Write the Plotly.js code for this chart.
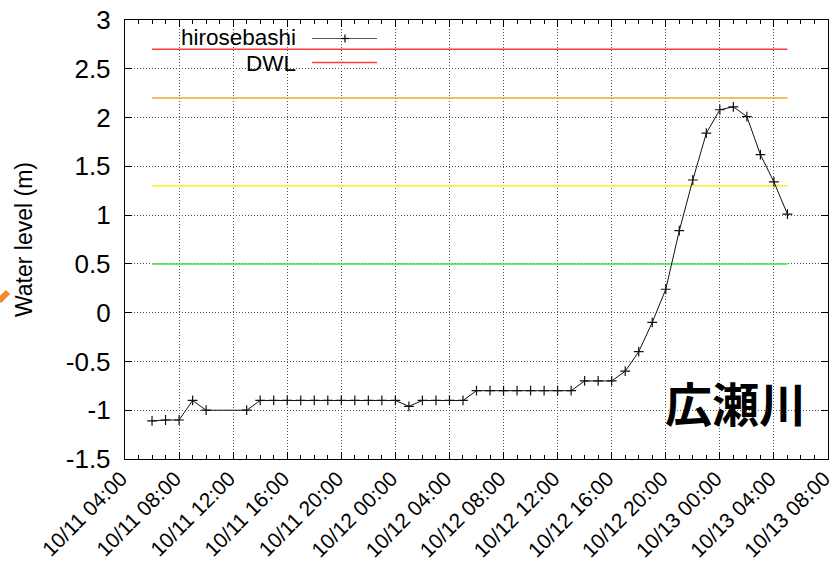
<!DOCTYPE html>
<html>
<head>
<meta charset="utf-8">
<script src="https://cdn.plot.ly/plotly-3.0.1.min.js"></script>
<style>html,body{margin:0;padding:0;background:#fff;}#chart{width:833px;height:567px;}</style>
</head>
<body>
<div id="chart"></div>
<script>
// Observation times (2019, typhoon period); 10/11 11:00 and 12:00 missing
const times = [
  '2019-10-11 06:00','2019-10-11 07:00','2019-10-11 08:00','2019-10-11 09:00','2019-10-11 10:00',
  '2019-10-11 13:00','2019-10-11 14:00','2019-10-11 15:00','2019-10-11 16:00','2019-10-11 17:00',
  '2019-10-11 18:00','2019-10-11 19:00','2019-10-11 20:00','2019-10-11 21:00','2019-10-11 22:00',
  '2019-10-11 23:00','2019-10-12 00:00','2019-10-12 01:00','2019-10-12 02:00','2019-10-12 03:00',
  '2019-10-12 04:00','2019-10-12 05:00','2019-10-12 06:00','2019-10-12 07:00','2019-10-12 08:00',
  '2019-10-12 09:00','2019-10-12 10:00','2019-10-12 11:00','2019-10-12 12:00','2019-10-12 13:00',
  '2019-10-12 14:00','2019-10-12 15:00','2019-10-12 16:00','2019-10-12 17:00','2019-10-12 18:00',
  '2019-10-12 19:00','2019-10-12 20:00','2019-10-12 21:00','2019-10-12 22:00','2019-10-12 23:00',
  '2019-10-13 00:00','2019-10-13 01:00','2019-10-13 02:00','2019-10-13 03:00','2019-10-13 04:00',
  '2019-10-13 05:00'
];
const hirosebashi = [
  -1.11,-1.10,-1.10,-0.90,-1.00,
  -1.00,-0.90,-0.90,-0.90,-0.90,
  -0.90,-0.90,-0.90,-0.90,-0.90,
  -0.90,-0.90,-0.96,-0.90,-0.90,
  -0.90,-0.90,-0.80,-0.80,-0.80,
  -0.80,-0.80,-0.80,-0.80,-0.80,
  -0.70,-0.70,-0.70,-0.60,-0.40,
  -0.10,0.24,0.84,1.36,1.84,
  2.08,2.11,2.01,1.62,1.34,
  1.01
];
// Reference levels (m)
const levelNames = ['DWL','level2','level3','level4'];
const levelValues = [2.7, 2.2, 1.3, 0.5];
const levelColors = ['#ff3a3a','#f3a535','#ffee22','#3ee63e'];

const yTickVals = [-1.5,-1,-0.5,0,0.5,1,1.5,2,2.5,3];
const yTickText = ['-1.5','-1','-0.5','0','0.5','1','1.5','2','2.5','3'];
const xTickVals = [
  '2019-10-11 04:00','2019-10-11 08:00','2019-10-11 12:00','2019-10-11 16:00','2019-10-11 20:00',
  '2019-10-12 00:00','2019-10-12 04:00','2019-10-12 08:00','2019-10-12 12:00','2019-10-12 16:00',
  '2019-10-12 20:00','2019-10-13 00:00','2019-10-13 04:00','2019-10-13 08:00'
];
const xTickText = [
  '10/11 04:00','10/11 08:00','10/11 12:00','10/11 16:00','10/11 20:00',
  '10/12 00:00','10/12 04:00','10/12 08:00','10/12 12:00','10/12 16:00',
  '10/12 20:00','10/13 00:00','10/13 04:00','10/13 08:00'
];
const xRange = ['2019-10-11 04:00','2019-10-13 08:00'];

const chartTitle = '広瀬川';
const yTitle = 'Water level (m)';

const W = 833, H = 567, L = 125, R = 5, T = 20, B = 108;
const pw = W - L - R, ph = H - T - B;
const px = x => (x - L) / pw;
const py = y => (H - B - y) / ph;

const traces = [];
levelValues.forEach((v, i) => {
  traces.push({
    x: [times[0], times[times.length - 1]],
    y: [v, v],
    mode: 'lines',
    name: levelNames[i],
    line: {color: levelColors[i], width: 1.5},
    showlegend: false,
    hoverinfo: 'skip'
  });
});
traces.push({
  x: times, y: hirosebashi,
  mode: 'lines+markers',
  name: 'hirosebashi',
  line: {color: '#111', width: 1},
  marker: {symbol: 'cross-thin', size: 7, line: {color: '#111', width: 1.2}},
  showlegend: false
});

const font = {family: '"Liberation Sans", Arial, Helvetica, sans-serif', color: '#000'};

const layout = {
  width: W, height: H,
  margin: {l: L, r: R, t: T, b: B},
  paper_bgcolor: '#fff', plot_bgcolor: '#fff',
  showlegend: false,
  font: Object.assign({size: 22}, font),
  xaxis: {
    type: 'date', range: xRange,
    tickvals: xTickVals, ticktext: xTickText, tickangle: -45,
    tickfont: Object.assign({size: 21}, font),
    ticklabeloverflow: 'allow',
    ticklabelstandoff: -2,
    ticklabelshift: -4,
    showline: true, linecolor: '#000', linewidth: 1.2, mirror: 'ticks',
    ticks: 'inside', ticklen: 7, tickcolor: '#000',
    showgrid: true, gridcolor: '#555', griddash: '1px,2px', gridwidth: 1,
    minor: {dtick: 3600000, tick0: '2019-10-11 04:00', ticks: 'inside', ticklen: 4, tickcolor: '#000', showgrid: false},
    zeroline: false
  },
  yaxis: {
    range: [-1.5, 3],
    tickvals: yTickVals, ticktext: yTickText,
    tickfont: Object.assign({size: 26}, font),
    ticklabelstandoff: 8,
    showline: true, linecolor: '#000', linewidth: 1.2, mirror: 'ticks',
    ticks: 'inside', ticklen: 7, tickcolor: '#000',
    showgrid: true, gridcolor: '#555', griddash: '1px,2px', gridwidth: 1,
    zeroline: false,
    title: {text: yTitle, font: Object.assign({size: 23}, font), standoff: 26}
  },
  shapes: [
    // key background (opaque, covers grid only)
    {type: 'rect', xref: 'paper', yref: 'paper', x0: px(137), x1: px(394), y0: py(75), y1: py(21),
     fillcolor: '#fff', line: {width: 0}, layer: 'between'},
    // key samples
    {type: 'line', xref: 'paper', yref: 'paper', x0: px(312), x1: px(377), y0: py(38.5), y1: py(38.5),
     line: {color: '#555', width: 1.2}},
    {type: 'line', xref: 'paper', yref: 'paper', x0: px(341), x1: px(349), y0: py(38.5), y1: py(38.5),
     line: {color: '#000', width: 1.2}},
    {type: 'line', xref: 'paper', yref: 'paper', x0: px(345), x1: px(345), y0: py(34.5), y1: py(42.5),
     line: {color: '#000', width: 1.2}},
    {type: 'line', xref: 'paper', yref: 'paper', x0: px(312), x1: px(377), y0: py(62.5), y1: py(62.5),
     line: {color: levelColors[0], width: 1.5}},
    // orange mark at the left edge
    {type: 'line', xref: 'paper', yref: 'paper', x0: px(-1), x1: px(8), y0: py(301), y1: py(292),
     line: {color: '#f08a2c', width: 6}}
  ],
  annotations: [
    {xref: 'paper', yref: 'paper', x: px(297), y: py(37.5), xanchor: 'right', yanchor: 'middle',
     text: 'hirosebashi', showarrow: false, borderpad: 0, font: Object.assign({size: 22.5}, font)},
    {xref: 'paper', yref: 'paper', x: px(297), y: py(63), xanchor: 'right', yanchor: 'middle',
     text: levelNames[0], showarrow: false, borderpad: 0, font: Object.assign({size: 22.5}, font)},
    {xref: 'paper', yref: 'paper', x: px(735), y: py(401), xanchor: 'center', yanchor: 'middle',
     text: chartTitle, showarrow: false,
     font: {family: '"Noto Sans CJK JP", sans-serif', size: 47, color: '#000', weight: 'bold'}}
  ]
};

Plotly.newPlot('chart', traces, layout, {displayModeBar: false, staticPlot: true});
</script>
</body>
</html>
